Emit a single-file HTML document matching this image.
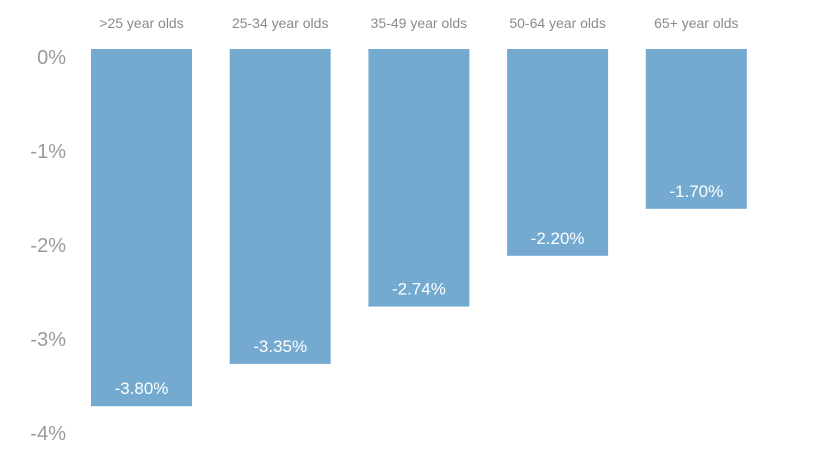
<!DOCTYPE html>
<html><head><meta charset="utf-8"><style>
body{margin:0;background:#fff;font-family:"Liberation Sans",sans-serif}
svg text{font-family:"Liberation Sans",sans-serif;font-weight:300}
</style></head><body>
<svg width="825" height="447">
<g id="yaxis"></g>
<g id="bars"></g>
</svg>
<script>
const categories=[">25 year olds","25-34 year olds","35-49 year olds","50-64 year olds","65+ year olds"];
const values=[-3.80,-3.35,-2.74,-2.20,-1.70];
const valueLabels=["-3.80%","-3.35%","-2.74%","-2.20%","-1.70%"];
const yTicks=[0,-1,-2,-3,-4];
const yTickLabels=["0%","-1%","-2%","-3%","-4%"];
const NS="http://www.w3.org/2000/svg";
const y=v=>49-94*v;
const xCenter=i=>141.5+i*138.7;
const bw=101;
const ya=document.getElementById('yaxis'),bg=document.getElementById('bars');
yTicks.forEach((t,i)=>{
 const tx=document.createElementNS(NS,'text');
 
 
 tx.setAttribute('x',66);tx.setAttribute('y',y(t)+15);
 tx.setAttribute('text-anchor','end');tx.setAttribute('font-size','20');tx.setAttribute('fill','#9a9a9a');
 tx.textContent=yTickLabels[i];ya.appendChild(tx);
});
categories.forEach((c,i)=>{
 const cx=xCenter(i);
 const r=document.createElementNS(NS,'rect');
 
 
 r.setAttribute('x',cx-bw/2);r.setAttribute('y',y(0));r.setAttribute('width',bw);
 r.setAttribute('height',y(values[i])-y(0));r.setAttribute('fill','#74aad0');
 bg.appendChild(r);
 const ct=document.createElementNS(NS,'text');
 
 
 ct.setAttribute('x',cx);ct.setAttribute('y',28);ct.setAttribute('text-anchor','middle');
 ct.setAttribute('font-size','14');ct.setAttribute('fill','#8a8a8a');
 ct.textContent=c;bg.appendChild(ct);
 const vt=document.createElementNS(NS,'text');
 
 
 vt.setAttribute('x',cx);vt.setAttribute('y',y(values[i])-12);vt.setAttribute('text-anchor','middle');
 vt.setAttribute('font-size','17');vt.setAttribute('fill','#ffffff');
 vt.textContent=valueLabels[i];bg.appendChild(vt);
});
</script>
</body></html>
